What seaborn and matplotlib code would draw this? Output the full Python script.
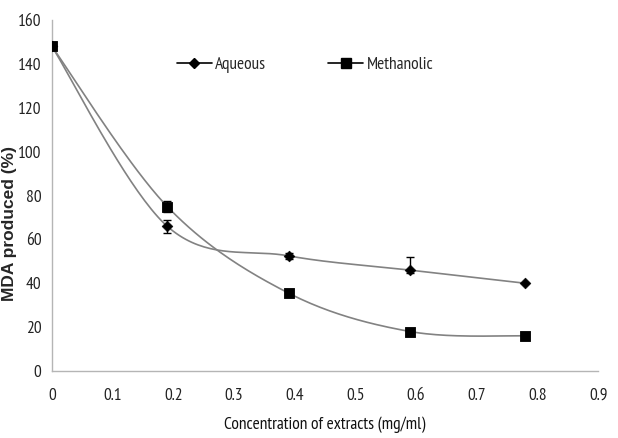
import matplotlib
matplotlib.use('Agg')
import matplotlib.pyplot as plt
import numpy as np
import seaborn as sns

# data
conc = [0, 0.19, 0.39, 0.59, 0.78]
aqueous = [148, 66, 52.5, 46, 40]
aqueous_err_lo = [0, 3, 1.5, 1.5, 0]
aqueous_err_hi = [0, 3, 1.5, 6, 0]
methanolic = [148, 75, 35.5, 18, 16]
methanolic_err = [0, 2.5, 1, 1, 1]
xticks = [0, 0.1, 0.2, 0.3, 0.4, 0.5, 0.6, 0.7, 0.8, 0.9]
yticks = [0, 20, 40, 60, 80, 100, 120, 140, 160]


def smooth(x, y, n=40):
    # Excel-style smoothed line (Catmull-Rom bezier through the points)
    x = np.asarray(x, float)
    y = np.asarray(y, float)
    pts = np.column_stack([x, y])
    out = []
    for i in range(len(pts) - 1):
        p0 = pts[i - 1] if i > 0 else pts[i]
        p1 = pts[i]
        p2 = pts[i + 1]
        p3 = pts[i + 2] if i + 2 < len(pts) else pts[i + 1]
        c1 = p1 + (p2 - p0) / 6
        c2 = p2 - (p3 - p1) / 6
        t = np.linspace(0, 1, n)[:, None]
        seg = ((1 - t) ** 3) * p1 + 3 * ((1 - t) ** 2) * t * c1 + 3 * (1 - t) * t ** 2 * c2 + t ** 3 * p2
        out.append(seg)
    seg = np.vstack(out)
    return seg[:, 0], seg[:, 1]


sns.set_style("white")
plt.rcParams['font.family'] = ['PT Sans Narrow', 'DejaVu Sans']

fig = plt.figure(figsize=(6.18, 4.38), dpi=100)
ax = fig.add_axes([0.084, 0.153, 0.884, 0.801])

line_col = '#828282'
for ys, mk, ms, lab in [(aqueous, 'D', 5, 'Aqueous'), (methanolic, 's', 7, 'Methanolic')]:
    sx, sy = smooth(conc, ys)
    ax.plot(sx, sy, color=line_col, lw=1.2, zorder=2)
    ax.plot([], [], color='black', lw=1.2, marker=mk, markersize=ms, label=lab)

ax.errorbar(conc, aqueous, yerr=[aqueous_err_lo, aqueous_err_hi], fmt='none',
            ecolor='black', elinewidth=1, capsize=3, zorder=3)
ax.errorbar(conc, methanolic, yerr=methanolic_err, fmt='none',
            ecolor='black', elinewidth=1, capsize=3, zorder=3)
sns.scatterplot(x=conc, y=aqueous, marker='D', s=30, color='black', edgecolor='black', ax=ax, zorder=4)
sns.scatterplot(x=conc, y=methanolic, marker='s', s=60, color='black', edgecolor='black', ax=ax, zorder=4)

ax.set_xlim(0, 0.9)
ax.set_ylim(0, 160)
ax.set_xticks(xticks)
ax.set_xticklabels([('%g' % v) for v in xticks])
ax.set_yticks(yticks)
ax.set_yticklabels([str(v) for v in yticks])
ax.tick_params(axis='both', direction='out', length=4, color='#aaaaaa', labelsize=12.5, labelcolor='#222222')
ax.tick_params(axis='x', pad=8)
for s in ['top', 'right']:
    ax.spines[s].set_visible(False)
for s in ['left', 'bottom']:
    ax.spines[s].set_color('#b5b5b5')
    ax.spines[s].set_linewidth(1)

ax.set_xlabel('Concentration of extracts (mg/ml)', fontsize=12.5, color='#111111', labelpad=9)
fig.text(0.016, 0.49, 'MDA produced (%)', rotation=90, ha='center', va='center',
         fontsize=12.5, fontweight='bold', family=['Liberation Sans', 'DejaVu Sans'])

ax.legend(loc='upper left', bbox_to_anchor=(0.2, 0.94), ncol=2, frameon=False,
          fontsize=12.5, handlelength=2.0, handletextpad=0.2, columnspacing=3.6)

fig.savefig('out.png', dpi=100)
